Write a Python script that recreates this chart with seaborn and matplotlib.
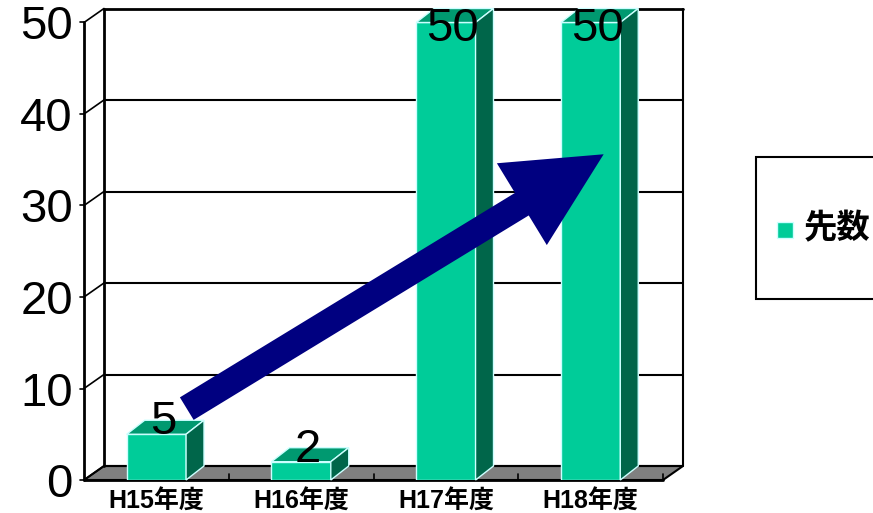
import matplotlib
matplotlib.use("Agg")
import matplotlib.pyplot as plt
from matplotlib.patches import Polygon, Rectangle, FancyArrowPatch
import seaborn as sns

# data
categories = ["H15年度", "H16年度", "H17年度", "H18年度"]
values = [5, 2, 50, 50]
series_name = "先数"
y_ticks = [0, 10, 20, 30, 40, 50]
# trend arrow (category position, value) start -> end
arrow_start = (0.21, 7.8)
arrow_end = (3.09, 35.6)

sns.set_style("white")
plt.rcParams["font.family"] = ["Liberation Sans", "Noto Sans CJK JP", "DejaVu Sans"]
plt.rcParams["text.color"] = "black"
plt.rcParams["xtick.color"] = "black"
plt.rcParams["ytick.color"] = "black"

front_c, top_c, side_c = "#00cc99", "#009970", "#00664a"
edge_c = "#ccffff"

fig = plt.figure(figsize=(8.73, 5.13), dpi=100)
ax = fig.add_axes([84 / 873, 33 / 513, 579 / 873, 457.5 / 513])

sns.barplot(x=categories, y=values, color=front_c, width=0.41, saturation=1,
            edgecolor=edge_c, linewidth=1, ax=ax)
ax.set_xlim(-0.5, 3.5)
ax.set_ylim(0, 50)

dx, dy = 0.138, 1.53      # depth of walls
bdx = 0.124               # depth of bars

# floor
ax.add_patch(Polygon([(-0.5, 0), (3.5, 0), (3.5 + dx, dy), (-0.5 + dx, dy)],
                     closed=True, facecolor="#808080", edgecolor="black",
                     linewidth=1.5, clip_on=False, zorder=1))
ax.plot([-0.5, 3.5], [0, 0], color="black", lw=2, clip_on=False, zorder=1.5)
for xt in [0.5, 1.5, 2.5, 3.5]:
    ax.plot([xt, xt], [0, 0.65], color="black", lw=1.2, clip_on=False, zorder=1.5)

# back wall grid + side wall diagonals
for v in y_ticks:
    ax.plot([-0.5 + dx, 3.5 + dx], [v + dy, v + dy], color="black",
            lw=2 if v == 50 else 1.5, clip_on=False, zorder=1.5)
    ax.plot([-0.5, -0.5 + dx], [v, v + dy], color="black", lw=1.2,
            clip_on=False, zorder=1.5)
    ax.plot([-0.5, -0.5 - 0.025], [v, v], color="black", lw=1.2,
            clip_on=False, zorder=1.5)
ax.plot([-0.5 + dx, -0.5 + dx], [dy, 50 + dy], color="black", lw=2, clip_on=False, zorder=1.5)
ax.plot([3.5 + dx, 3.5 + dx], [dy, 50 + dy], color="black", lw=1.5, clip_on=False, zorder=1.5)
ax.plot([-0.5, -0.5], [0, 50], color="black", lw=2, clip_on=False, zorder=1.5)

# 3D faces of the bars
for p, v in zip(ax.patches[:len(values)], values):
    p.set_zorder(3)
    x0, w, h = p.get_x(), p.get_width(), p.get_height()
    ax.add_patch(Polygon([(x0, h), (x0 + w, h), (x0 + w + bdx, h + dy), (x0 + bdx, h + dy)],
                         closed=True, facecolor=top_c, edgecolor=edge_c, lw=1,
                         clip_on=False, zorder=3))
    ax.add_patch(Polygon([(x0 + w, 0), (x0 + w + bdx, dy), (x0 + w + bdx, h + dy), (x0 + w, h)],
                         closed=True, facecolor=side_c, edgecolor=edge_c, lw=1,
                         clip_on=False, zorder=3))
    ax.text(x0 + w / 2 + 0.045, min(h + 1.3, 49.3), str(v), ha="center", va="center",
            fontsize=34, color="black", zorder=6, clip_on=False)

# trend arrow
arr = FancyArrowPatch(arrow_start, arrow_end,
                      arrowstyle="simple,head_length=69,head_width=69,tail_width=19",
                      mutation_scale=1, shrinkA=0, shrinkB=0,
                      color="#000080", lw=0, zorder=5, clip_on=False)
ax.add_patch(arr)

for s in ax.spines.values():
    s.set_visible(False)
ax.set_yticks(y_ticks)
ax.set_yticklabels([str(t) for t in y_ticks], fontsize=34, color="black")
ax.tick_params(axis="y", length=0, pad=8)
ax.tick_params(axis="x", length=0, pad=7)
ax.set_xticks(range(len(categories)))
ax.set_xticklabels(categories, fontsize=18, fontweight="bold", color="black")
ax.set_xlabel("")
ax.set_ylabel("")

# legend box
fig.add_artist(Rectangle((756 / 873, (513 - 299) / 513), 130 / 873, 142 / 513,
                         transform=fig.transFigure, facecolor="white",
                         edgecolor="black", lw=1.5))
fig.add_artist(Rectangle((777 / 873, (513 - 238) / 513), 16 / 873, 16 / 513,
                         transform=fig.transFigure, facecolor=front_c,
                         edgecolor=edge_c, lw=1))
fig.text(804 / 873, (513 - 229) / 513, series_name, fontsize=24, fontweight="bold",
         ha="left", va="center", color="black")

fig.savefig("out.png", dpi=100)
